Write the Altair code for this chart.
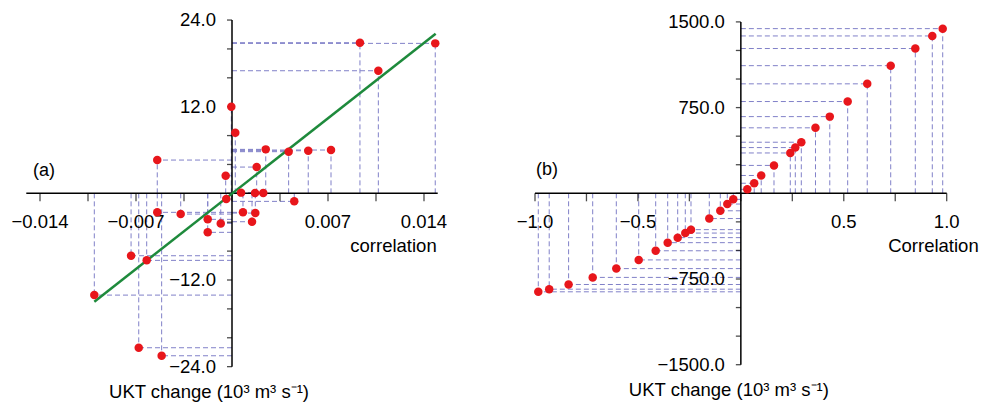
import altair as alt
import pandas as pd

# ---------------- data: panel (a) ----------------
a_corr = [0.00933, 0.01482, 0.01067, -0.00005, 0.00024, 0.00246, 0.00413, 0.00556, 0.00722,
          -0.00545, 0.00180, -0.00046, 0.00066, 0.00168, 0.00228, -0.00042, 0.00454,
          -0.00545, -0.00374, -0.00177, -0.00082, 0.00080, 0.00170, 0.00146, -0.00177,
          -0.00736, -0.00622, -0.01004, -0.00680, -0.00513]
a_ukt = [20.86, 20.77, 16.98, 12.0, 8.4, 6.09, 5.77, 5.9, 6.0,
         4.61, 3.64, 2.44, 0.1, 0.05, 0.05, -0.79, -1.11,
         -2.63, -2.87, -3.6, -4.16, -2.63, -2.73, -3.93, -5.4,
         -8.64, -9.28, -14.09, -21.38, -22.49]
a_fit_x = [-0.01004, 0.01485]
a_fit_y = [-15.0, 22.1]
a_xticks = [-0.014, -0.0105, -0.007, -0.0035, 0.0, 0.0035, 0.007, 0.0105, 0.014]
a_xlabels = [-0.014, -0.007, 0.007, 0.014]
a_xlabel_text = ["\u22120.014", "\u22120.007", "0.007", "0.014"]
a_yticks = [-24, -20, -16, -12, -8, -4, 0, 4, 8, 12, 16, 20, 24]
a_ylabels = [24, 12, -12, -24]
a_ylabel_text = ["24.0", "12.0", "\u221212.0", "\u221224.0"]
a_xaxis = [-0.015, 0.015]
a_yaxis = [-24, 24]

# ---------------- data: panel (b) ----------------
b_corr = [0.9806, 0.930, 0.8475, 0.728, 0.614, 0.519, 0.432, 0.3625, 0.2937, 0.2645,
          0.2402, 0.161, 0.0989, 0.0649, 0.0313, -0.0367, -0.0658, -0.0998, -0.1533, -0.2422,
          -0.2699, -0.3068, -0.3554, -0.4137, -0.4962, -0.6050, -0.7197, -0.8368, -0.9310, -0.984]
b_ukt = [1441, 1377, 1267, 1117, 958, 803, 671, 573, 447, 400,
         353, 244, 156, 88, 35, -53, -94, -153, -221, -318,
         -348, -388, -432, -503, -583, -659, -736, -798, -839, -862]
b_xticks = [-1.0, -0.75, -0.5, -0.25, 0.0, 0.25, 0.5, 0.75, 1.0]
b_xlabels = [-1.0, -0.5, 0.5, 1.0]
b_xlabel_text = ["\u22121.0", "\u22120.5", "0.5", "1.0"]
b_yticks = [-1500, -1250, -1000, -750, -500, -250, 0, 250, 500, 750, 1000, 1250, 1500]
b_ylabels = [1500, 750, -750, -1500]
b_ylabel_text = ["1500.0", "750.0", "\u2212750.0", "\u22121500.0"]
b_xaxis = [-1.0, 1.0]
b_yaxis = [-1500, 1500]

TITLE = "UKT change (10\u00b3 m\u00b3 s\u207b\u00b9)"

RED = "#e8161b"
GREEN = "#1e8a3c"
DASH = "#8080c8"
FONT = "Liberation Sans"
FS = 18.5


def panel(corr, ukt, xdom, ydom, width, height, xticks, xlab, xlabtxt, yticks, ylab, ylabtxt,
          xaxis, yaxis, corr_label, corr_dx, panel_label, pl_x, pl_y, title_dx, fit=None):
    xs = alt.Scale(domain=xdom, nice=False, zero=False)
    ys = alt.Scale(domain=ydom, nice=False, zero=False)
    pts = pd.DataFrame({"x": corr, "y": ukt, "z": 0.0})

    base = alt.Chart(pts)
    vdrop = base.mark_rule(color=DASH, strokeWidth=1, strokeDash=[5, 3]).encode(
        x=alt.X("x:Q", scale=xs, axis=None), y=alt.Y("z:Q", scale=ys, axis=None), y2="y:Q")
    hdrop = base.mark_rule(color=DASH, strokeWidth=1, strokeDash=[5, 3]).encode(
        x=alt.X("z:Q", scale=xs, axis=None), x2="x:Q", y=alt.Y("y:Q", scale=ys, axis=None))

    xa = pd.DataFrame({"x": [xaxis[0]], "x2": [xaxis[1]], "y": [0.0]})
    ya = pd.DataFrame({"y": [yaxis[0]], "y2": [yaxis[1]], "x": [0.0]})
    xline = alt.Chart(xa).mark_rule(color="black", strokeWidth=1.5).encode(
        x=alt.X("x:Q", scale=xs, axis=None), x2="x2:Q", y=alt.Y("y:Q", scale=ys, axis=None))
    yline = alt.Chart(ya).mark_rule(color="black", strokeWidth=1.5).encode(
        y=alt.Y("y:Q", scale=ys, axis=None), y2="y2:Q", x=alt.X("x:Q", scale=xs, axis=None))

    xt = pd.DataFrame({"x": xticks, "y": 0.0})
    yt = pd.DataFrame({"y": yticks, "x": 0.0})
    xtick = alt.Chart(xt).mark_tick(color="black", orient="vertical", size=8, thickness=1.3,
                                    yOffset=4).encode(
        x=alt.X("x:Q", scale=xs, axis=None), y=alt.Y("y:Q", scale=ys, axis=None))
    ytick = alt.Chart(yt).mark_tick(color="black", orient="horizontal", size=5, thickness=1.3,
                                    xOffset=-2.5).encode(
        x=alt.X("x:Q", scale=xs, axis=None), y=alt.Y("y:Q", scale=ys, axis=None))

    xl = pd.DataFrame({"x": xlab, "y": 0.0, "t": xlabtxt})
    yl = pd.DataFrame({"y": ylab, "x": 0.0, "t": ylabtxt})
    xltext = alt.Chart(xl).mark_text(font=FONT, fontSize=FS, color="black", align="center",
                                     baseline="alphabetic", dy=34.5).encode(
        x=alt.X("x:Q", scale=xs, axis=None), y=alt.Y("y:Q", scale=ys, axis=None), text="t:N")
    yltext = alt.Chart(yl).mark_text(font=FONT, fontSize=FS, color="black", align="right",
                                     baseline="middle", dx=-16).encode(
        x=alt.X("x:Q", scale=xs, axis=None), y=alt.Y("y:Q", scale=ys, axis=None), text="t:N")

    cl = pd.DataFrame({"x": [xaxis[1]], "y": [0.0], "t": [corr_label]})
    ctext = alt.Chart(cl).mark_text(font=FONT, fontSize=FS, color="black", align="right",
                                    baseline="alphabetic", dx=corr_dx, dy=58.5).encode(
        x=alt.X("x:Q", scale=xs, axis=None), y=alt.Y("y:Q", scale=ys, axis=None), text="t:N")

    pl = pd.DataFrame({"x": [pl_x], "y": [pl_y], "t": [panel_label]})
    ptext = alt.Chart(pl).mark_text(font=FONT, fontSize=18, color="black", align="center",
                                    baseline="middle").encode(
        x=alt.X("x:Q", scale=xs, axis=None), y=alt.Y("y:Q", scale=ys, axis=None), text="t:N")

    tl = pd.DataFrame({"x": [0.0], "y": [yaxis[0]], "t": [TITLE]})
    ttext = alt.Chart(tl).mark_text(font=FONT, fontSize=FS, color="black", align="center",
                                    baseline="alphabetic", dx=title_dx, dy=31).encode(
        x=alt.X("x:Q", scale=xs, axis=None), y=alt.Y("y:Q", scale=ys, axis=None), text="t:N")

    layers = [vdrop, hdrop, xline, yline, xtick, ytick, xltext, yltext, ctext, ptext, ttext]
    if fit is not None:
        fd = pd.DataFrame({"x": fit[0], "y": fit[1]})
        layers.append(alt.Chart(fd).mark_line(color=GREEN, strokeWidth=2.5).encode(
            x=alt.X("x:Q", scale=xs, axis=None), y=alt.Y("y:Q", scale=ys, axis=None)))
    dots = base.mark_circle(color=RED, opacity=1, size=72).encode(
        x=alt.X("x:Q", scale=xs, axis=None), y=alt.Y("y:Q", scale=ys, axis=None))
    layers.append(dots)
    return alt.layer(*layers).properties(width=width, height=height)


# pixel calibration helpers (view geometry)
def lin(p, p0, k):
    return (p - p0) / k

# panel (a): x zero at page 232, 13714 px/unit; y zero at page 193.35, 7.221 px/unit
left = panel(
    a_corr, a_ukt,
    xdom=[lin(8, 232, 13714), lin(480, 232, 13714)],
    ydom=[-lin(402, 193.35, 7.221), -lin(8, 193.35, 7.221)],
    width=472, height=394,
    xticks=a_xticks, xlab=a_xlabels, xlabtxt=a_xlabel_text,
    yticks=a_yticks, ylab=a_ylabels, ylabtxt=a_ylabel_text,
    xaxis=a_xaxis, yaxis=a_yaxis,
    corr_label="correlation", corr_dx=-1,
    panel_label="(a)", pl_x=-0.01371, pl_y=3.14, title_dx=-23,
    fit=(a_fit_x, a_fit_y),
)

# panel (b): x zero at page 740.85, 205.85 px/unit; y zero at page 193.3, 0.11427 px/unit
right = panel(
    b_corr, b_ukt,
    xdom=[lin(480, 740.85, 205.85), lin(980, 740.85, 205.85)],
    ydom=[-lin(402, 193.3, 0.11427), -lin(8, 193.3, 0.11427)],
    width=500, height=394,
    xticks=b_xticks, xlab=b_xlabels, xlabtxt=b_xlabel_text,
    yticks=b_yticks, ylab=b_ylabels, ylabtxt=b_ylabel_text,
    xaxis=b_xaxis, yaxis=b_yaxis,
    corr_label="Correlation", corr_dx=32,
    panel_label="(b)", pl_x=-0.9417, pl_y=204, title_dx=-12,
)

chart = alt.hconcat(left, right, spacing=0).resolve_scale(
    x="independent", y="independent"
).properties(padding=0).configure_view(stroke=None)

chart.save("out.html", embed_options={"renderer": "svg", "actions": False})
